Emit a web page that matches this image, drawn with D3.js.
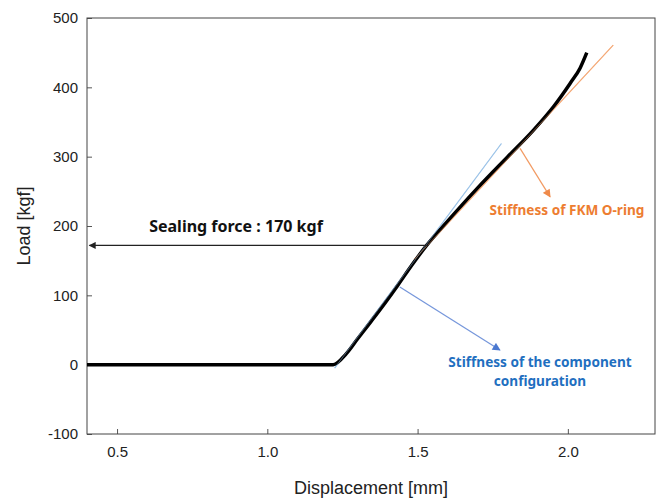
<!DOCTYPE html>
<html>
<head>
<meta charset="utf-8">
<script src="https://cdn.jsdelivr.net/npm/d3@7"></script>
<style>
  body { margin: 0; background: #fff; }
  svg { display: block; }
</style>
</head>
<body>
<div id="chart"></div>
<script>
// Measured load-displacement curve
const displacement = [0.40, 1.219, 1.263, 1.30, 1.341, 1.39, 1.435, 1.48, 1.53, 1.60, 1.70, 1.80, 1.885, 1.952, 2.008, 2.041, 2.063];
const load         = [0,    0,     16,    37,   60,    88,   115,   143,  172,  207,  255,  300,  338,   372,   406,   428,   450];

// Stiffness fit lines [x, y]
const componentFit = [[1.224, -5], [1.779, 319]];
const oringFit = [[1.49, 152], [2.151, 461]];

// Annotation arrows [from, to]
const sealingArrow = [[1.535, 172], [0.408, 172]];
const oringArrow = [[1.841, 312], [1.941, 242]];
const componentArrow = [[1.441, 112], [1.774, 21]];

const xTicks = [0.5, 1.0, 1.5, 2.0];
const yTicks = [-100, 0, 100, 200, 300, 400, 500];

const width = 661;
const height = 498;
const margin = { top: 18, right: 6, bottom: 64, left: 87 };

const svg = d3.select('#chart')
  .append('svg')
  .attr('width', width)
  .attr('height', height);

const x = d3.scaleLinear()
  .domain([0.4, 2.29])
  .range([margin.left, width - margin.right]);

const y = d3.scaleLinear()
  .domain([-100, 500])
  .range([height - margin.bottom, margin.top]);

const defs = svg.append('defs');
function marker(id, color, w, h) {
  defs.append('marker')
    .attr('id', id)
    .attr('viewBox', '0 0 10 10')
    .attr('refX', 9)
    .attr('refY', 5)
    .attr('markerUnits', 'userSpaceOnUse')
    .attr('markerWidth', w)
    .attr('markerHeight', h)
    .attr('orient', 'auto')
    .append('path')
    .attr('d', 'M0,0 L10,5 L0,10 Z')
    .attr('fill', color);
}
marker('arrBlack', '#222', 9, 7);
marker('arrOrange', '#ef8a4a', 9, 8);
marker('arrBlue', '#4a78d0', 9, 8);

const axisFont = 'Liberation Sans, Arial, sans-serif';

// Axes (ticks pointing inward)
svg.append('g')
  .attr('transform', `translate(0, ${height - margin.bottom})`)
  .call(d3.axisBottom(x).tickValues(xTicks).tickFormat(d => d.toFixed(1)).tickSizeInner(-5).tickSizeOuter(0).tickPadding(12))
  .call(g => g.select('.domain').remove())
  .call(g => g.selectAll('line').attr('stroke', '#555'))
  .call(g => g.selectAll('text')
    .attr('font-family', axisFont)
    .attr('font-size', '15px')
    .attr('fill', '#222'));

svg.append('g')
  .attr('transform', `translate(${margin.left}, 0)`)
  .call(d3.axisLeft(y).tickValues(yTicks).tickFormat(d => String(d)).tickSizeInner(-5).tickSizeOuter(0).tickPadding(9))
  .call(g => g.select('.domain').remove())
  .call(g => g.selectAll('line').attr('stroke', '#555'))
  .call(g => g.selectAll('text')
    .attr('font-family', axisFont)
    .attr('font-size', '15px')
    .attr('fill', '#222'));

// Frame
svg.append('rect')
  .attr('x', margin.left)
  .attr('y', margin.top)
  .attr('width', width - margin.left - margin.right)
  .attr('height', height - margin.top - margin.bottom)
  .attr('fill', 'none')
  .attr('stroke', '#444')
  .attr('stroke-width', 1);

// Axis titles
svg.append('text')
  .attr('x', (margin.left + width - margin.right) / 2)
  .attr('y', 494)
  .attr('text-anchor', 'middle')
  .attr('font-family', axisFont)
  .attr('font-size', '18px')
  .attr('fill', '#222')
  .text('Displacement [mm]');

svg.append('text')
  .attr('transform', `translate(30, ${(margin.top + height - margin.bottom) / 2}) rotate(-90)`)
  .attr('text-anchor', 'middle')
  .attr('font-family', axisFont)
  .attr('font-size', '18px')
  .attr('fill', '#222')
  .text('Load [kgf]');

const line = d3.line().x(d => x(d[0])).y(d => y(d[1]));

// Fit lines
svg.append('path')
  .attr('d', line(componentFit))
  .attr('stroke', '#9cc3e8')
  .attr('stroke-width', 1.2)
  .attr('fill', 'none');

svg.append('path')
  .attr('d', line(oringFit))
  .attr('stroke', '#f4a977')
  .attr('stroke-width', 1.2)
  .attr('fill', 'none');

// Measured curve
svg.append('path')
  .attr('d', d3.line().x(d => x(d)).y((d, i) => y(load[i])).curve(d3.curveMonotoneX)(displacement))
  .attr('stroke', '#000')
  .attr('stroke-width', 3.5)
  .attr('stroke-linejoin', 'round')
  .attr('fill', 'none');

// Fit lines faintly on top where they overlap the curve
svg.append('path')
  .attr('d', line(componentFit))
  .attr('stroke', '#9cc3e8')
  .attr('stroke-width', 0.8)
  .attr('opacity', 0.6)
  .attr('fill', 'none');

svg.append('path')
  .attr('d', line(oringFit))
  .attr('stroke', '#f4a977')
  .attr('stroke-width', 0.8)
  .attr('opacity', 0.6)
  .attr('fill', 'none');

// Arrows
svg.append('path')
  .attr('d', line(sealingArrow))
  .attr('stroke', '#222')
  .attr('stroke-width', 1.2)
  .attr('marker-end', 'url(#arrBlack)');

svg.append('path')
  .attr('d', line(oringArrow))
  .attr('stroke', '#f29a62')
  .attr('stroke-width', 1.2)
  .attr('marker-end', 'url(#arrOrange)');

svg.append('path')
  .attr('d', line(componentArrow))
  .attr('stroke', '#7596db')
  .attr('stroke-width', 1.2)
  .attr('marker-end', 'url(#arrBlue)');

// Labels
const labelFont = 'Noto Sans, DejaVu Sans, sans-serif';

svg.append('text')
  .attr('x', 236)
  .attr('y', 232)
  .attr('text-anchor', 'middle')
  .attr('font-family', labelFont)
  .attr('font-weight', 'bold')
  .attr('font-size', '16px')
  .attr('fill', '#111')
  .text('Sealing force : 170 kgf');

svg.append('text')
  .attr('x', 567)
  .attr('y', 215)
  .attr('text-anchor', 'middle')
  .attr('font-family', labelFont)
  .attr('font-weight', 'bold')
  .attr('font-size', '13.6px')
  .attr('fill', '#ed7d31')
  .text('Stiffness of FKM O-ring');

const compLines = ['Stiffness of the component', 'configuration'];
svg.selectAll('.comp-label')
  .data(compLines)
  .enter()
  .append('text')
  .attr('class', 'comp-label')
  .attr('x', 540)
  .attr('y', (d, i) => 367 + i * 19)
  .attr('text-anchor', 'middle')
  .attr('font-family', labelFont)
  .attr('font-weight', 'bold')
  .attr('font-size', '13.6px')
  .attr('fill', '#1f6fc0')
  .text(d => d);
</script>
</body>
</html>
